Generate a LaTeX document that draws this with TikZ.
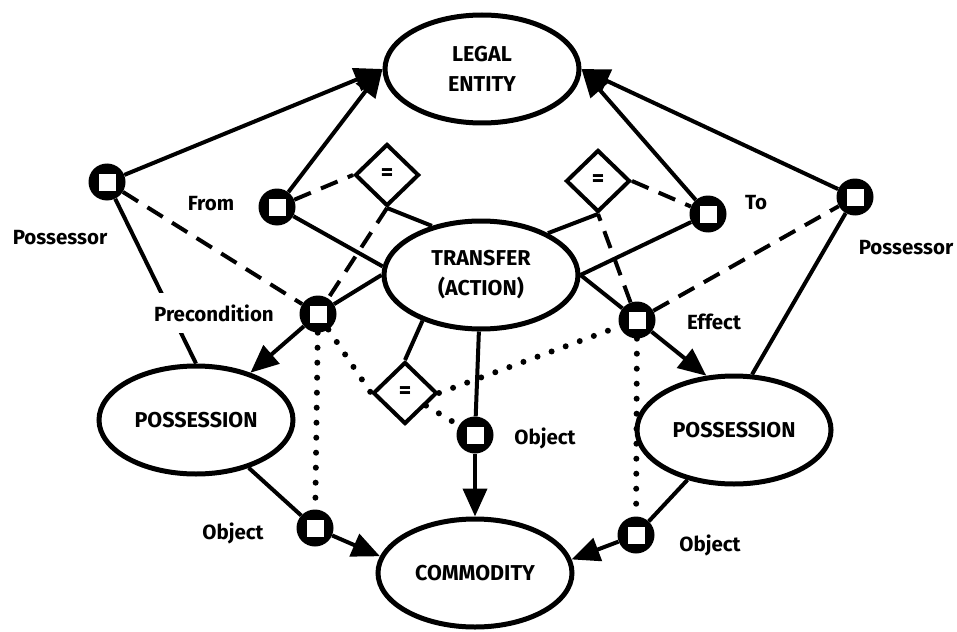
\documentclass[tikz,border=0pt]{standalone}
\usepackage{fontspec}
\setmainfont{Fira Sans}
\usetikzlibrary{shapes.geometric, arrows.meta}

\begin{document}
\begin{tikzpicture}[
    x=1pt, y=-1pt,
    entity/.style={ellipse, draw, line width=5pt, minimum width=194pt, minimum height=108pt, inner sep=0pt, align=center, font=\bfseries\fontsize{21.5}{30}\selectfont},
    port/.style={circle, fill=black, minimum size=37pt, inner sep=0pt, path picture={\fill[white] ([shift={(-8.5pt,-8.5pt)}]path picture bounding box.center) rectangle ([shift={(8.5pt,8.5pt)}]path picture bounding box.center);}},
    eqbox/.style={diamond, draw, fill=white, line width=4pt, minimum width=64pt, minimum height=62pt, inner sep=0pt, font=\bfseries\fontsize{24}{24}\selectfont},
    lab/.style={font=\bfseries\fontsize{20.5}{22}\selectfont, inner sep=1pt},
    link/.style={line width=4pt},
    arrow/.style={-{Triangle[length=28pt, width=24pt]}, line width=4pt},
    dashlink/.style={line width=4pt, dash pattern=on 18pt off 11pt},
    dotlink/.style={line width=6pt, line cap=round, dash pattern=on 0pt off 15pt}
]
\useasboundingbox (0,0) rectangle (957,631);

% entities
\node[entity] (le) at (482,69) {LEGAL\\ENTITY};
\node[entity] (tr) at (481,275) {TRANSFER\\(ACTION)};
\node[entity] (posl) at (196,420) {POSSESSION};
\node[entity] (posr) at (734,430) {POSSESSION};
\node[entity] (com) at (475,573) {COMMODITY};

% relation ports
\node[port] (p1) at (107,182) {};
\node[port] (from) at (277,207) {};
\node[port] (to) at (708,214) {};
\node[port] (p2) at (855,197) {};
\node[port] (pre) at (318,314) {};
\node[port] (eff) at (637,320) {};
\node[port] (objm) at (475,435) {};
\node[port] (objl) at (315,528) {};
\node[port] (objr) at (636,535) {};

% equality tests
\node[eqbox] (eq1) at (387,175) {=};
\node[eqbox] (eq2) at (598,181) {=};
\node[eqbox] (eq3) at (405,393) {=};

\draw[link] (p1) -- (posl.north);
\node[lab, fill=white, inner ysep=12pt] (precl) at (214,313) {Precondition};

% labels
\node[lab] (poss1) at (60,238) {Possessor};
\node[lab] (froml) at (211,204) {From};
\node[lab] (tol) at (756,203) {To};
\node[lab] (poss2) at (906,248) {Possessor};
\node[lab] (effl) at (714,322) {Effect};
\node[lab] (objml) at (545,438) {Object};
\node[lab] (objll) at (233,533) {Object};
\node[lab] (objrl) at (710,545) {Object};

% to the legal entity
\draw[arrow] (p1) -- (le.west);
\draw[arrow] (from) -- (le.west);
\draw[arrow] (to) -- (le.east);
\draw[arrow] (p2) -- (le.east);

% left side
\draw[dashlink] (p1) -- (pre);
\draw[link] (from) -- (tr.175);
\draw[dashlink] (from) -- (eq1.west);
\draw[link] (eq1.south) -- (tr.135);
\draw[dashlink] (eq1.south) -- (pre);
\draw[link] (pre) -- (tr.west);
\draw[arrow] (pre) -- (posl);
\draw[dotlink] (pre) -- (objl);
\draw[dotlink] (pre) -- (eq3.west);
\draw[dotlink] (eq3) -- (objm);
\draw[dotlink] (eq3.east) -- (eff);
\draw[link] (eq3.north) -- (tr.218);

% middle
\draw[link] (tr) -- (objm);
\draw[arrow] (objm) -- (com);

% right side
\draw[link] (tr.east) -- (eff);
\draw[arrow] (eff) -- (posr.117);
\draw[dashlink] (eff) -- (p2);
\draw[dashlink] (eff) -- (eq2.south);
\draw[dotlink] (eff) -- (objr);
\draw[link] (eq2.south) -- (tr.32);
\draw[dashlink] (eq2.east) -- (to);
\draw[link] (to) -- (tr.east);
\draw[link] (p2) -- (posr.72);

% objects
\draw[link] (posl) -- (objl);
\draw[arrow] (objl) -- (com.170);
\draw[link] (posr) -- (objr);
\draw[arrow] (objr) -- (com.8);

\end{tikzpicture}
\end{document}
